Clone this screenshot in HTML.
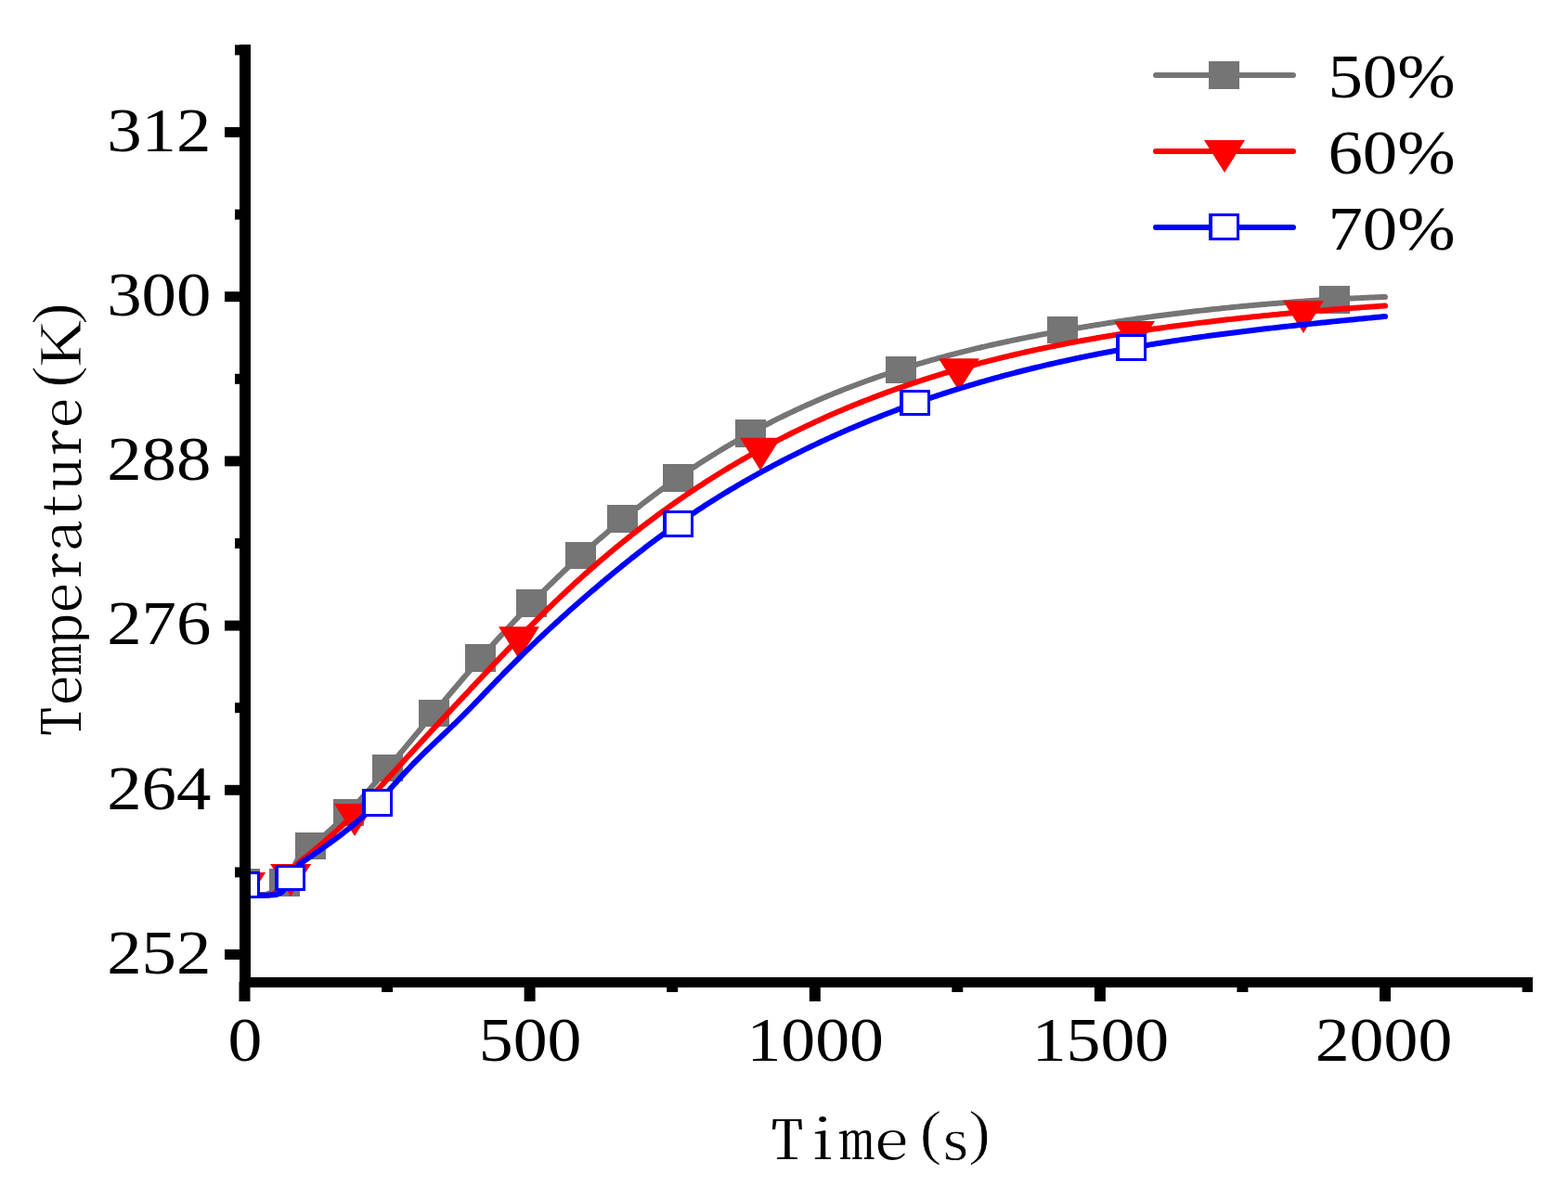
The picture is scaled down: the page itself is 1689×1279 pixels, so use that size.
<!DOCTYPE html>
<html><head><meta charset="utf-8">
<style>html,body{margin:0;padding:0;background:#fff;overflow:hidden}svg{display:block}</style>
</head><body>
<svg width="1689" height="1279" viewBox="0 0 1689 1279">
<rect width="1689" height="1279" fill="#fff"/>
<defs><clipPath id="tc"><rect x="20" y="300" width="76" height="520"/></clipPath><clipPath id="pc"><rect x="258" y="48" width="1393" height="1005"/></clipPath></defs>
<g clip-path="url(#pc)"><path d="M263.5,951.0 C263.9,952.7 264.1,958.9 266.0,961.0 C267.9,963.1 271.2,963.2 275.0,963.5 C278.8,963.8 283.8,965.1 289.0,963.0 C294.2,960.9 301.2,956.3 306.0,951.0 C310.8,945.7 316.0,934.3 318.0,931.0 L320.0,927.23 L322.0,924.11 L324.0,921.46 L326.0,919.19 L328.0,917.23 L330.0,915.51 L332.0,913.94 L334.0,912.45 L336.0,910.96 L338.0,909.44 L340.0,907.88 L342.0,906.28 L344.0,904.65 L346.0,902.99 L348.0,901.29 L350.0,899.56 L352.0,897.80 L354.0,896.01 L356.0,894.19 L358.0,892.35 L360.0,890.47 L362.0,888.57 L364.0,886.64 L366.0,884.68 L368.0,882.70 L370.0,880.70 L372.0,878.68 L374.0,876.63 L376.0,874.56 L378.0,872.47 L380.0,870.37 L382.0,868.24 L384.0,866.10 L386.0,863.93 L388.0,861.75 L390.0,859.56 L392.0,857.35 L394.0,855.12 L396.0,852.88 L398.0,850.62 L400.0,848.35 L402.0,846.07 L404.0,843.78 L406.0,841.48 L408.0,839.16 L410.0,836.83 L412.0,834.50 L414.0,832.15 L416.0,829.80 L418.0,827.44 L420.0,825.07 L422.0,822.70 L424.0,820.32 L426.0,817.94 L428.0,815.55 L430.0,813.15 L432.0,810.76 L434.0,808.36 L436.0,805.95 L438.0,803.55 L440.0,801.15 L442.0,798.74 L444.0,796.34 L446.0,793.93 L448.0,791.53 L450.0,789.13 L452.0,786.72 L454.0,784.32 L456.0,781.92 L458.0,779.52 L460.0,777.12 L462.0,774.73 L464.0,772.33 L466.0,769.94 L468.0,767.55 L470.0,765.16 L472.0,762.77 L474.0,760.39 L476.0,758.01 L478.0,755.63 L480.0,753.26 L482.0,750.89 L484.0,748.52 L486.0,746.16 L488.0,743.80 L490.0,741.44 L492.0,739.09 L494.0,736.74 L496.0,734.40 L498.0,732.06 L500.0,729.73 L502.0,727.41 L504.0,725.08 L506.0,722.77 L508.0,720.46 L510.0,718.15 L512.0,715.86 L514.0,713.56 L516.0,711.28 L518.0,709.00 L520.0,706.73 L522.0,704.46 L524.0,702.21 L526.0,699.95 L528.0,697.71 L530.0,695.48 L532.0,693.25 L534.0,691.03 L536.0,688.82 L538.0,686.62 L540.0,684.42 L542.0,682.24 L544.0,680.06 L546.0,677.90 L548.0,675.74 L550.0,673.59 L552.0,671.45 L554.0,669.32 L556.0,667.19 L558.0,665.08 L560.0,662.97 L562.0,660.88 L564.0,658.79 L566.0,656.71 L568.0,654.64 L570.0,652.58 L572.0,650.52 L574.0,648.48 L576.0,646.44 L578.0,644.41 L580.0,642.40 L582.0,640.39 L584.0,638.39 L586.0,636.39 L588.0,634.41 L590.0,632.43 L592.0,630.47 L594.0,628.51 L596.0,626.56 L598.0,624.62 L600.0,622.69 L602.0,620.76 L604.0,618.85 L606.0,616.94 L608.0,615.04 L610.0,613.15 L612.0,611.27 L614.0,609.40 L616.0,607.54 L618.0,605.68 L620.0,603.83 L622.0,602.00 L624.0,600.17 L626.0,598.35 L628.0,596.53 L630.0,594.73 L632.0,592.93 L634.0,591.15 L636.0,589.37 L638.0,587.60 L640.0,585.83 L642.0,584.08 L644.0,582.34 L646.0,580.60 L648.0,578.87 L650.0,577.15 L652.0,575.44 L654.0,573.73 L656.0,572.04 L658.0,570.35 L660.0,568.68 L662.0,567.01 L664.0,565.34 L666.0,563.69 L668.0,562.05 L670.0,560.41 L672.0,558.78 L674.0,557.16 L676.0,555.55 L678.0,553.95 L680.0,552.35 L682.0,550.76 L684.0,549.18 L686.0,547.61 L688.0,546.05 L690.0,544.50 L692.0,542.95 L694.0,541.41 L696.0,539.89 L698.0,538.36 L700.0,536.85 L702.0,535.35 L704.0,533.85 L706.0,532.36 L708.0,530.88 L710.0,529.41 L712.0,527.94 L714.0,526.49 L716.0,525.04 L718.0,523.60 L720.0,522.17 L722.0,520.75 L724.0,519.33 L726.0,517.92 L728.0,516.52 L730.0,515.13 L732.0,513.75 L734.0,512.37 L736.0,511.01 L738.0,509.65 L740.0,508.30 L742.0,506.95 L744.0,505.62 L746.0,504.29 L748.0,502.97 L750.0,501.66 L752.0,500.35 L754.0,499.06 L756.0,497.77 L758.0,496.49 L760.0,495.21 L762.0,493.95 L764.0,492.69 L766.0,491.44 L768.0,490.20 L770.0,488.96 L772.0,487.73 L774.0,486.51 L776.0,485.30 L778.0,484.09 L780.0,482.89 L782.0,481.70 L784.0,480.52 L786.0,479.34 L788.0,478.17 L790.0,477.01 L792.0,475.85 L794.0,474.70 L796.0,473.56 L798.0,472.43 L800.0,471.30 L802.0,470.18 L804.0,469.07 L806.0,467.96 L808.0,466.86 L810.0,465.77 L812.0,464.69 L814.0,463.61 L816.0,462.54 L818.0,461.47 L820.0,460.41 L822.0,459.36 L824.0,458.32 L826.0,457.28 L828.0,456.25 L830.0,455.22 L832.0,454.20 L834.0,453.19 L836.0,452.19 L838.0,451.19 L840.0,450.19 L842.0,449.21 L844.0,448.23 L846.0,447.26 L848.0,446.29 L850.0,445.33 L852.0,444.37 L854.0,443.43 L856.0,442.48 L858.0,441.55 L860.0,440.62 L862.0,439.69 L864.0,438.78 L866.0,437.87 L868.0,436.96 L870.0,436.06 L872.0,435.17 L874.0,434.28 L876.0,433.40 L878.0,432.52 L880.0,431.65 L882.0,430.79 L884.0,429.93 L886.0,429.08 L888.0,428.23 L890.0,427.39 L892.0,426.56 L894.0,425.73 L896.0,424.90 L898.0,424.08 L900.0,423.27 L902.0,422.46 L904.0,421.66 L906.0,420.86 L908.0,420.07 L910.0,419.29 L912.0,418.51 L914.0,417.73 L916.0,416.96 L918.0,416.20 L920.0,415.44 L922.0,414.68 L924.0,413.94 L926.0,413.19 L928.0,412.45 L930.0,411.72 L932.0,410.99 L934.0,410.27 L936.0,409.55 L938.0,408.84 L940.0,408.13 L942.0,407.43 L944.0,406.73 L946.0,406.03 L948.0,405.35 L950.0,404.66 L952.0,403.98 L954.0,403.31 L956.0,402.64 L958.0,401.97 L960.0,401.31 L962.0,400.66 L964.0,400.01 L966.0,399.36 L968.0,398.72 L970.0,398.08 L972.0,397.45 L974.0,396.82 L976.0,396.19 L978.0,395.57 L980.0,394.96 L982.0,394.35 L984.0,393.74 L986.0,393.14 L988.0,392.54 L990.0,391.95 L992.0,391.36 L994.0,390.77 L996.0,390.19 L998.0,389.61 L1000.0,389.04 L1002.0,388.47 L1004.0,387.90 L1006.0,387.34 L1008.0,386.78 L1010.0,386.23 L1012.0,385.68 L1014.0,385.13 L1016.0,384.59 L1018.0,384.05 L1020.0,383.52 L1022.0,382.99 L1024.0,382.46 L1026.0,381.94 L1028.0,381.42 L1030.0,380.90 L1032.0,380.39 L1034.0,379.88 L1036.0,379.37 L1038.0,378.87 L1040.0,378.37 L1042.0,377.88 L1044.0,377.39 L1046.0,376.90 L1048.0,376.41 L1050.0,375.93 L1052.0,375.45 L1054.0,374.98 L1056.0,374.50 L1058.0,374.04 L1060.0,373.57 L1062.0,373.11 L1064.0,372.65 L1066.0,372.19 L1068.0,371.74 L1070.0,371.29 L1072.0,370.84 L1074.0,370.40 L1076.0,369.96 L1078.0,369.52 L1080.0,369.08 L1082.0,368.65 L1084.0,368.22 L1086.0,367.79 L1088.0,367.37 L1090.0,366.94 L1092.0,366.53 L1094.0,366.11 L1096.0,365.70 L1098.0,365.28 L1100.0,364.88 L1102.0,364.47 L1104.0,364.07 L1106.0,363.66 L1108.0,363.27 L1110.0,362.87 L1112.0,362.48 L1114.0,362.08 L1116.0,361.69 L1118.0,361.31 L1120.0,360.92 L1122.0,360.54 L1124.0,360.16 L1126.0,359.78 L1128.0,359.41 L1130.0,359.03 L1132.0,358.66 L1134.0,358.29 L1136.0,357.92 L1138.0,357.56 L1140.0,357.19 L1142.0,356.83 L1144.0,356.47 L1146.0,356.12 L1148.0,355.76 L1150.0,355.41 L1152.0,355.05 L1154.0,354.70 L1156.0,354.35 L1158.0,354.01 L1160.0,353.66 L1162.0,353.32 L1164.0,352.98 L1166.0,352.64 L1168.0,352.30 L1170.0,351.97 L1172.0,351.63 L1174.0,351.30 L1176.0,350.97 L1178.0,350.64 L1180.0,350.32 L1182.0,349.99 L1184.0,349.67 L1186.0,349.35 L1188.0,349.03 L1190.0,348.71 L1192.0,348.39 L1194.0,348.08 L1196.0,347.77 L1198.0,347.46 L1200.0,347.15 L1202.0,346.84 L1204.0,346.54 L1206.0,346.24 L1208.0,345.93 L1210.0,345.64 L1212.0,345.34 L1214.0,345.04 L1216.0,344.75 L1218.0,344.46 L1220.0,344.16 L1222.0,343.88 L1224.0,343.59 L1226.0,343.30 L1228.0,343.02 L1230.0,342.74 L1232.0,342.46 L1234.0,342.18 L1236.0,341.90 L1238.0,341.63 L1240.0,341.36 L1242.0,341.08 L1244.0,340.82 L1246.0,340.55 L1248.0,340.28 L1250.0,340.02 L1252.0,339.75 L1254.0,339.49 L1256.0,339.23 L1258.0,338.98 L1260.0,338.72 L1262.0,338.47 L1264.0,338.21 L1266.0,337.96 L1268.0,337.72 L1270.0,337.47 L1272.0,337.22 L1274.0,336.98 L1276.0,336.74 L1278.0,336.50 L1280.0,336.26 L1282.0,336.02 L1284.0,335.78 L1286.0,335.55 L1288.0,335.32 L1290.0,335.09 L1292.0,334.86 L1294.0,334.63 L1296.0,334.41 L1298.0,334.18 L1300.0,333.96 L1302.0,333.74 L1304.0,333.52 L1306.0,333.31 L1308.0,333.09 L1310.0,332.88 L1312.0,332.66 L1314.0,332.45 L1316.0,332.24 L1318.0,332.04 L1320.0,331.83 L1322.0,331.63 L1324.0,331.43 L1326.0,331.22 L1328.0,331.03 L1330.0,330.83 L1332.0,330.63 L1334.0,330.44 L1336.0,330.25 L1338.0,330.05 L1340.0,329.86 L1342.0,329.68 L1344.0,329.49 L1346.0,329.31 L1348.0,329.12 L1350.0,328.94 L1352.0,328.76 L1354.0,328.58 L1356.0,328.41 L1358.0,328.23 L1360.0,328.06 L1362.0,327.89 L1364.0,327.71 L1366.0,327.55 L1368.0,327.38 L1370.0,327.21 L1372.0,327.05 L1374.0,326.89 L1376.0,326.72 L1378.0,326.56 L1380.0,326.41 L1382.0,326.25 L1384.0,326.10 L1386.0,325.94 L1388.0,325.79 L1390.0,325.64 L1392.0,325.49 L1394.0,325.34 L1396.0,325.20 L1398.0,325.05 L1400.0,324.91 L1402.0,324.77 L1404.0,324.63 L1406.0,324.49 L1408.0,324.36 L1410.0,324.22 L1412.0,324.09 L1414.0,323.95 L1416.0,323.82 L1418.0,323.69 L1420.0,323.57 L1422.0,323.44 L1424.0,323.32 L1426.0,323.19 L1428.0,323.07 L1430.0,322.95 L1432.0,322.83 L1434.0,322.71 L1436.0,322.60 L1438.0,322.48 L1440.0,322.37 L1442.0,322.26 L1444.0,322.15 L1446.0,322.04 L1448.0,321.93 L1450.0,321.83 L1452.0,321.72 L1454.0,321.62 L1456.0,321.52 L1458.0,321.42 L1460.0,321.32 L1462.0,321.22 L1464.0,321.13 L1466.0,321.03 L1468.0,320.94 L1470.0,320.85 L1472.0,320.76 L1474.0,320.67 L1476.0,320.58 L1478.0,320.50 L1480.0,320.41 L1482.0,320.33 L1484.0,320.25 L1486.0,320.17 L1488.0,320.09 L1490.0,320.01 L1492.0,319.94" fill="none" stroke="#757575" stroke-width="6" stroke-linejoin="round" stroke-linecap="round"/><rect x="247" y="936" width="33" height="30" fill="#757575"/><rect x="290" y="936" width="33" height="30" fill="#757575"/><rect x="318" y="897" width="33" height="29" fill="#757575"/><rect x="359" y="861" width="33" height="29" fill="#757575"/><rect x="401" y="813" width="33" height="29" fill="#757575"/><rect x="451" y="754" width="33" height="29" fill="#757575"/><rect x="501" y="694" width="33" height="30" fill="#757575"/><rect x="556" y="635" width="33" height="30" fill="#757575"/><rect x="609" y="584" width="33" height="29" fill="#757575"/><rect x="654" y="544" width="33" height="30" fill="#757575"/><rect x="714" y="500" width="33" height="30" fill="#757575"/><rect x="792" y="452" width="33" height="30" fill="#757575"/><rect x="954" y="384" width="33" height="29" fill="#757575"/><rect x="1128" y="341" width="33" height="29" fill="#757575"/><rect x="1421" y="308" width="33" height="30" fill="#757575"/><path d="M264.1,951.7 C264.6,953.4 262.0,960.0 267.0,962.0 C272.0,964.0 286.3,966.7 294.0,963.5 C301.7,960.3 308.7,948.2 313.1,942.8 C317.5,937.4 319.1,933.0 320.3,931.0 L322.3,929.11 L324.3,927.54 L326.3,925.95 L328.3,924.36 L330.3,922.75 L332.3,921.13 L334.3,919.51 L336.3,917.87 L338.3,916.22 L340.3,914.55 L342.3,912.88 L344.3,911.19 L346.3,909.49 L348.3,907.78 L350.3,906.05 L352.3,904.31 L354.3,902.55 L356.3,900.78 L358.3,899.00 L360.3,897.20 L362.3,895.39 L364.3,893.56 L366.3,891.71 L368.3,889.85 L370.3,887.97 L372.3,886.08 L374.3,884.16 L376.3,882.24 L378.3,880.29 L380.3,878.33 L382.3,876.34 L384.3,874.34 L386.3,872.33 L388.3,870.29 L390.3,868.24 L392.3,866.18 L394.3,864.10 L396.3,862.00 L398.3,859.90 L400.3,857.78 L402.3,855.65 L404.3,853.51 L406.3,851.36 L408.3,849.20 L410.3,847.04 L412.3,844.86 L414.3,842.68 L416.3,840.50 L418.3,838.31 L420.3,836.11 L422.3,833.91 L424.3,831.71 L426.3,829.51 L428.3,827.30 L430.3,825.10 L432.3,822.90 L434.3,820.69 L436.3,818.49 L438.3,816.29 L440.3,814.10 L442.3,811.91 L444.3,809.72 L446.3,807.54 L448.3,805.36 L450.3,803.19 L452.3,801.02 L454.3,798.85 L456.3,796.68 L458.3,794.52 L460.3,792.36 L462.3,790.20 L464.3,788.05 L466.3,785.89 L468.3,783.74 L470.3,781.59 L472.3,779.45 L474.3,777.30 L476.3,775.16 L478.3,773.01 L480.3,770.87 L482.3,768.73 L484.3,766.59 L486.3,764.45 L488.3,762.31 L490.3,760.17 L492.3,758.03 L494.3,755.89 L496.3,753.75 L498.3,751.61 L500.3,749.47 L502.3,747.34 L504.3,745.20 L506.3,743.06 L508.3,740.92 L510.3,738.78 L512.3,736.64 L514.3,734.51 L516.3,732.38 L518.3,730.24 L520.3,728.11 L522.3,725.98 L524.3,723.86 L526.3,721.73 L528.3,719.61 L530.3,717.49 L532.3,715.37 L534.3,713.26 L536.3,711.15 L538.3,709.04 L540.3,706.94 L542.3,704.84 L544.3,702.74 L546.3,700.65 L548.3,698.56 L550.3,696.48 L552.3,694.40 L554.3,692.32 L556.3,690.25 L558.3,688.19 L560.3,686.13 L562.3,684.07 L564.3,682.02 L566.3,679.98 L568.3,677.94 L570.3,675.91 L572.3,673.89 L574.3,671.87 L576.3,669.85 L578.3,667.85 L580.3,665.85 L582.3,663.86 L584.3,661.88 L586.3,659.90 L588.3,657.93 L590.3,655.97 L592.3,654.02 L594.3,652.07 L596.3,650.14 L598.3,648.21 L600.3,646.29 L602.3,644.38 L604.3,642.48 L606.3,640.58 L608.3,638.70 L610.3,636.83 L612.3,634.96 L614.3,633.10 L616.3,631.25 L618.3,629.41 L620.3,627.58 L622.3,625.76 L624.3,623.94 L626.3,622.14 L628.3,620.34 L630.3,618.55 L632.3,616.77 L634.3,615.00 L636.3,613.23 L638.3,611.48 L640.3,609.73 L642.3,607.99 L644.3,606.26 L646.3,604.54 L648.3,602.83 L650.3,601.12 L652.3,599.43 L654.3,597.74 L656.3,596.06 L658.3,594.38 L660.3,592.72 L662.3,591.06 L664.3,589.41 L666.3,587.77 L668.3,586.14 L670.3,584.52 L672.3,582.90 L674.3,581.29 L676.3,579.69 L678.3,578.10 L680.3,576.52 L682.3,574.94 L684.3,573.37 L686.3,571.81 L688.3,570.26 L690.3,568.71 L692.3,567.17 L694.3,565.64 L696.3,564.12 L698.3,562.61 L700.3,561.10 L702.3,559.60 L704.3,558.11 L706.3,556.62 L708.3,555.15 L710.3,553.68 L712.3,552.22 L714.3,550.76 L716.3,549.32 L718.3,547.88 L720.3,546.44 L722.3,545.02 L724.3,543.60 L726.3,542.19 L728.3,540.79 L730.3,539.39 L732.3,538.01 L734.3,536.62 L736.3,535.25 L738.3,533.88 L740.3,532.52 L742.3,531.17 L744.3,529.83 L746.3,528.49 L748.3,527.16 L750.3,525.83 L752.3,524.52 L754.3,523.21 L756.3,521.90 L758.3,520.61 L760.3,519.32 L762.3,518.04 L764.3,516.76 L766.3,515.49 L768.3,514.23 L770.3,512.97 L772.3,511.72 L774.3,510.48 L776.3,509.25 L778.3,508.02 L780.3,506.80 L782.3,505.58 L784.3,504.37 L786.3,503.17 L788.3,501.98 L790.3,500.79 L792.3,499.60 L794.3,498.43 L796.3,497.26 L798.3,496.10 L800.3,494.94 L802.3,493.79 L804.3,492.65 L806.3,491.51 L808.3,490.38 L810.3,489.25 L812.3,488.13 L814.3,487.02 L816.3,485.91 L818.3,484.81 L820.3,483.72 L822.3,482.63 L824.3,481.55 L826.3,480.47 L828.3,479.40 L830.3,478.34 L832.3,477.28 L834.3,476.23 L836.3,475.19 L838.3,474.15 L840.3,473.11 L842.3,472.08 L844.3,471.06 L846.3,470.05 L848.3,469.04 L850.3,468.03 L852.3,467.03 L854.3,466.04 L856.3,465.05 L858.3,464.07 L860.3,463.09 L862.3,462.12 L864.3,461.16 L866.3,460.20 L868.3,459.24 L870.3,458.30 L872.3,457.35 L874.3,456.42 L876.3,455.48 L878.3,454.56 L880.3,453.64 L882.3,452.72 L884.3,451.81 L886.3,450.91 L888.3,450.01 L890.3,449.11 L892.3,448.22 L894.3,447.34 L896.3,446.46 L898.3,445.59 L900.3,444.72 L902.3,443.86 L904.3,443.00 L906.3,442.15 L908.3,441.30 L910.3,440.46 L912.3,439.62 L914.3,438.78 L916.3,437.96 L918.3,437.13 L920.3,436.32 L922.3,435.50 L924.3,434.70 L926.3,433.89 L928.3,433.10 L930.3,432.30 L932.3,431.51 L934.3,430.73 L936.3,429.95 L938.3,429.18 L940.3,428.41 L942.3,427.64 L944.3,426.88 L946.3,426.13 L948.3,425.38 L950.3,424.63 L952.3,423.89 L954.3,423.15 L956.3,422.42 L958.3,421.69 L960.3,420.97 L962.3,420.25 L964.3,419.54 L966.3,418.83 L968.3,418.12 L970.3,417.42 L972.3,416.73 L974.3,416.04 L976.3,415.35 L978.3,414.66 L980.3,413.99 L982.3,413.31 L984.3,412.64 L986.3,411.98 L988.3,411.31 L990.3,410.66 L992.3,410.00 L994.3,409.35 L996.3,408.71 L998.3,408.07 L1000.3,407.43 L1002.3,406.80 L1004.3,406.17 L1006.3,405.55 L1008.3,404.93 L1010.3,404.31 L1012.3,403.70 L1014.3,403.09 L1016.3,402.49 L1018.3,401.89 L1020.3,401.29 L1022.3,400.70 L1024.3,400.11 L1026.3,399.52 L1028.3,398.94 L1030.3,398.36 L1032.3,397.79 L1034.3,397.22 L1036.3,396.66 L1038.3,396.09 L1040.3,395.54 L1042.3,394.98 L1044.3,394.43 L1046.3,393.88 L1048.3,393.34 L1050.3,392.80 L1052.3,392.26 L1054.3,391.73 L1056.3,391.20 L1058.3,390.67 L1060.3,390.15 L1062.3,389.63 L1064.3,389.12 L1066.3,388.60 L1068.3,388.10 L1070.3,387.59 L1072.3,387.09 L1074.3,386.59 L1076.3,386.09 L1078.3,385.60 L1080.3,385.11 L1082.3,384.63 L1084.3,384.15 L1086.3,383.67 L1088.3,383.19 L1090.3,382.72 L1092.3,382.25 L1094.3,381.79 L1096.3,381.32 L1098.3,380.86 L1100.3,380.41 L1102.3,379.95 L1104.3,379.50 L1106.3,379.05 L1108.3,378.61 L1110.3,378.17 L1112.3,377.73 L1114.3,377.29 L1116.3,376.86 L1118.3,376.43 L1120.3,376.00 L1122.3,375.58 L1124.3,375.16 L1126.3,374.74 L1128.3,374.32 L1130.3,373.91 L1132.3,373.50 L1134.3,373.09 L1136.3,372.69 L1138.3,372.29 L1140.3,371.89 L1142.3,371.49 L1144.3,371.10 L1146.3,370.71 L1148.3,370.32 L1150.3,369.93 L1152.3,369.55 L1154.3,369.17 L1156.3,368.79 L1158.3,368.41 L1160.3,368.04 L1162.3,367.67 L1164.3,367.30 L1166.3,366.93 L1168.3,366.57 L1170.3,366.21 L1172.3,365.85 L1174.3,365.49 L1176.3,365.13 L1178.3,364.78 L1180.3,364.43 L1182.3,364.08 L1184.3,363.74 L1186.3,363.40 L1188.3,363.05 L1190.3,362.71 L1192.3,362.38 L1194.3,362.04 L1196.3,361.71 L1198.3,361.38 L1200.3,361.05 L1202.3,360.72 L1204.3,360.40 L1206.3,360.08 L1208.3,359.76 L1210.3,359.44 L1212.3,359.12 L1214.3,358.81 L1216.3,358.49 L1218.3,358.18 L1220.3,357.87 L1222.3,357.56 L1224.3,357.26 L1226.3,356.96 L1228.3,356.65 L1230.3,356.35 L1232.3,356.05 L1234.3,355.76 L1236.3,355.46 L1238.3,355.17 L1240.3,354.88 L1242.3,354.59 L1244.3,354.30 L1246.3,354.01 L1248.3,353.73 L1250.3,353.45 L1252.3,353.17 L1254.3,352.89 L1256.3,352.61 L1258.3,352.33 L1260.3,352.06 L1262.3,351.79 L1264.3,351.51 L1266.3,351.24 L1268.3,350.98 L1270.3,350.71 L1272.3,350.45 L1274.3,350.18 L1276.3,349.92 L1278.3,349.66 L1280.3,349.40 L1282.3,349.15 L1284.3,348.89 L1286.3,348.64 L1288.3,348.39 L1290.3,348.14 L1292.3,347.89 L1294.3,347.64 L1296.3,347.39 L1298.3,347.15 L1300.3,346.91 L1302.3,346.67 L1304.3,346.43 L1306.3,346.19 L1308.3,345.95 L1310.3,345.72 L1312.3,345.48 L1314.3,345.25 L1316.3,345.02 L1318.3,344.79 L1320.3,344.56 L1322.3,344.33 L1324.3,344.11 L1326.3,343.89 L1328.3,343.66 L1330.3,343.44 L1332.3,343.22 L1334.3,343.00 L1336.3,342.79 L1338.3,342.57 L1340.3,342.36 L1342.3,342.15 L1344.3,341.93 L1346.3,341.72 L1348.3,341.52 L1350.3,341.31 L1352.3,341.10 L1354.3,340.90 L1356.3,340.69 L1358.3,340.49 L1360.3,340.29 L1362.3,340.09 L1364.3,339.89 L1366.3,339.69 L1368.3,339.50 L1370.3,339.30 L1372.3,339.11 L1374.3,338.92 L1376.3,338.73 L1378.3,338.54 L1380.3,338.35 L1382.3,338.16 L1384.3,337.97 L1386.3,337.79 L1388.3,337.61 L1390.3,337.42 L1392.3,337.24 L1394.3,337.06 L1396.3,336.88 L1398.3,336.70 L1400.3,336.53 L1402.3,336.35 L1404.3,336.18 L1406.3,336.00 L1408.3,335.83 L1410.3,335.66 L1412.3,335.49 L1414.3,335.32 L1416.3,335.15 L1418.3,334.98 L1420.3,334.82 L1422.3,334.65 L1424.3,334.49 L1426.3,334.32 L1428.3,334.16 L1430.3,334.00 L1432.3,333.84 L1434.3,333.68 L1436.3,333.52 L1438.3,333.36 L1440.3,333.21 L1442.3,333.05 L1444.3,332.90 L1446.3,332.75 L1448.3,332.59 L1450.3,332.44 L1452.3,332.29 L1454.3,332.14 L1456.3,331.99 L1458.3,331.84 L1460.3,331.70 L1462.3,331.55 L1464.3,331.41 L1466.3,331.26 L1468.3,331.12 L1470.3,330.98 L1472.3,330.83 L1474.3,330.69 L1476.3,330.55 L1478.3,330.41 L1480.3,330.27 L1482.3,330.14 L1484.3,330.00 L1486.3,329.86 L1488.3,329.73 L1490.3,329.59 L1492.0,329.48" fill="none" stroke="#ff0000" stroke-width="6" stroke-linejoin="round" stroke-linecap="round"/><polygon points="242.1,940.0 286.1,940.0 264.1,975.0" fill="#ff0000"/><polygon points="291.1,931.1 335.1,931.1 313.1,966.1" fill="#ff0000"/><polygon points="360.0,865.9 404.0,865.9 382.0,900.9" fill="#ff0000"/><polygon points="537.0,675.3 581.0,675.3 559.0,710.3" fill="#ff0000"/><polygon points="797.0,471.8 841.0,471.8 819.0,506.8" fill="#ff0000"/><polygon points="1011.0,386.3 1055.0,386.3 1033.0,421.3" fill="#ff0000"/><polygon points="1200.0,346.0 1244.0,346.0 1222.0,381.0" fill="#ff0000"/><polygon points="1382.0,324.0 1426.0,324.0 1404.0,359.0" fill="#ff0000"/><path d="M263.5,953.5 C264.1,955.1 262.6,961.2 267.0,963.0 C271.4,964.8 283.8,964.8 290.0,964.5 C296.2,964.2 300.2,964.1 304.0,961.0 C307.8,957.9 309.4,951.0 312.5,946.0 C315.6,941.0 321.1,933.5 322.8,931.0 L324.8,929.58 L326.8,928.21 L328.8,926.85 L330.8,925.48 L332.8,924.11 L334.8,922.74 L336.8,921.37 L338.8,919.99 L340.8,918.61 L342.8,917.22 L344.8,915.83 L346.8,914.43 L348.8,913.02 L350.8,911.60 L352.8,910.17 L354.8,908.73 L356.8,907.28 L358.8,905.82 L360.8,904.34 L362.8,902.85 L364.8,901.34 L366.8,899.82 L368.8,898.27 L370.8,896.71 L372.8,895.14 L374.8,893.54 L376.8,891.92 L378.8,890.28 L380.8,888.62 L382.8,886.93 L384.8,885.22 L386.8,883.48 L388.8,881.72 L390.8,879.93 L392.8,878.11 L394.8,876.27 L396.8,874.39 L398.8,872.49 L400.8,870.55 L402.8,868.58 L404.8,866.57 L406.8,864.54 L408.8,862.47 L410.8,860.36 L412.8,858.23 L414.8,856.08 L416.8,853.91 L418.8,851.72 L420.8,849.52 L422.8,847.31 L424.8,845.10 L426.8,842.88 L428.8,840.66 L430.8,838.46 L432.8,836.26 L434.8,834.07 L436.8,831.90 L438.8,829.75 L440.8,827.63 L442.8,825.52 L444.8,823.45 L446.8,821.40 L448.8,819.36 L450.8,817.35 L452.8,815.35 L454.8,813.38 L456.8,811.41 L458.8,809.46 L460.8,807.52 L462.8,805.59 L464.8,803.67 L466.8,801.76 L468.8,799.86 L470.8,797.95 L472.8,796.05 L474.8,794.16 L476.8,792.26 L478.8,790.36 L480.8,788.45 L482.8,786.55 L484.8,784.63 L486.8,782.71 L488.8,780.78 L490.8,778.83 L492.8,776.88 L494.8,774.91 L496.8,772.93 L498.8,770.93 L500.8,768.91 L502.8,766.89 L504.8,764.85 L506.8,762.80 L508.8,760.75 L510.8,758.68 L512.8,756.61 L514.8,754.54 L516.8,752.45 L518.8,750.37 L520.8,748.28 L522.8,746.19 L524.8,744.10 L526.8,742.00 L528.8,739.91 L530.8,737.83 L532.8,735.74 L534.8,733.67 L536.8,731.59 L538.8,729.53 L540.8,727.47 L542.8,725.42 L544.8,723.38 L546.8,721.35 L548.8,719.32 L550.8,717.31 L552.8,715.30 L554.8,713.30 L556.8,711.31 L558.8,709.33 L560.8,707.35 L562.8,705.39 L564.8,703.43 L566.8,701.47 L568.8,699.53 L570.8,697.60 L572.8,695.67 L574.8,693.75 L576.8,691.83 L578.8,689.93 L580.8,688.03 L582.8,686.14 L584.8,684.25 L586.8,682.38 L588.8,680.51 L590.8,678.65 L592.8,676.79 L594.8,674.94 L596.8,673.10 L598.8,671.26 L600.8,669.44 L602.8,667.61 L604.8,665.80 L606.8,663.99 L608.8,662.19 L610.8,660.39 L612.8,658.60 L614.8,656.82 L616.8,655.04 L618.8,653.27 L620.8,651.51 L622.8,649.75 L624.8,648.00 L626.8,646.25 L628.8,644.51 L630.8,642.77 L632.8,641.04 L634.8,639.32 L636.8,637.60 L638.8,635.89 L640.8,634.18 L642.8,632.48 L644.8,630.78 L646.8,629.09 L648.8,627.40 L650.8,625.72 L652.8,624.04 L654.8,622.37 L656.8,620.71 L658.8,619.05 L660.8,617.39 L662.8,615.74 L664.8,614.10 L666.8,612.46 L668.8,610.83 L670.8,609.20 L672.8,607.59 L674.8,605.97 L676.8,604.37 L678.8,602.77 L680.8,601.18 L682.8,599.59 L684.8,598.02 L686.8,596.45 L688.8,594.88 L690.8,593.33 L692.8,591.78 L694.8,590.24 L696.8,588.71 L698.8,587.18 L700.8,585.67 L702.8,584.16 L704.8,582.66 L706.8,581.17 L708.8,579.68 L710.8,578.21 L712.8,576.74 L714.8,575.28 L716.8,573.83 L718.8,572.39 L720.8,570.95 L722.8,569.52 L724.8,568.10 L726.8,566.69 L728.8,565.29 L730.8,563.89 L732.8,562.50 L734.8,561.12 L736.8,559.74 L738.8,558.37 L740.8,557.01 L742.8,555.66 L744.8,554.32 L746.8,552.98 L748.8,551.65 L750.8,550.32 L752.8,549.01 L754.8,547.70 L756.8,546.40 L758.8,545.10 L760.8,543.81 L762.8,542.53 L764.8,541.26 L766.8,539.99 L768.8,538.73 L770.8,537.47 L772.8,536.23 L774.8,534.99 L776.8,533.75 L778.8,532.52 L780.8,531.30 L782.8,530.09 L784.8,528.88 L786.8,527.68 L788.8,526.49 L790.8,525.30 L792.8,524.11 L794.8,522.94 L796.8,521.77 L798.8,520.60 L800.8,519.45 L802.8,518.29 L804.8,517.15 L806.8,516.01 L808.8,514.88 L810.8,513.75 L812.8,512.63 L814.8,511.51 L816.8,510.40 L818.8,509.30 L820.8,508.20 L822.8,507.10 L824.8,506.02 L826.8,504.94 L828.8,503.86 L830.8,502.79 L832.8,501.72 L834.8,500.66 L836.8,499.61 L838.8,498.56 L840.8,497.51 L842.8,496.48 L844.8,495.44 L846.8,494.41 L848.8,493.39 L850.8,492.37 L852.8,491.36 L854.8,490.35 L856.8,489.35 L858.8,488.35 L860.8,487.36 L862.8,486.37 L864.8,485.39 L866.8,484.41 L868.8,483.43 L870.8,482.46 L872.8,481.50 L874.8,480.54 L876.8,479.59 L878.8,478.64 L880.8,477.69 L882.8,476.76 L884.8,475.82 L886.8,474.89 L888.8,473.97 L890.8,473.05 L892.8,472.13 L894.8,471.22 L896.8,470.31 L898.8,469.41 L900.8,468.51 L902.8,467.62 L904.8,466.73 L906.8,465.85 L908.8,464.97 L910.8,464.10 L912.8,463.23 L914.8,462.36 L916.8,461.50 L918.8,460.65 L920.8,459.80 L922.8,458.95 L924.8,458.11 L926.8,457.27 L928.8,456.44 L930.8,455.61 L932.8,454.78 L934.8,453.96 L936.8,453.15 L938.8,452.34 L940.8,451.53 L942.8,450.73 L944.8,449.93 L946.8,449.14 L948.8,448.35 L950.8,447.56 L952.8,446.78 L954.8,446.00 L956.8,445.23 L958.8,444.46 L960.8,443.70 L962.8,442.94 L964.8,442.18 L966.8,441.43 L968.8,440.68 L970.8,439.94 L972.8,439.20 L974.8,438.47 L976.8,437.74 L978.8,437.01 L980.8,436.29 L982.8,435.57 L984.8,434.85 L986.8,434.14 L988.8,433.43 L990.8,432.73 L992.8,432.03 L994.8,431.34 L996.8,430.65 L998.8,429.96 L1000.8,429.28 L1002.8,428.60 L1004.8,427.92 L1006.8,427.25 L1008.8,426.58 L1010.8,425.92 L1012.8,425.26 L1014.8,424.60 L1016.8,423.95 L1018.8,423.30 L1020.8,422.65 L1022.8,422.01 L1024.8,421.38 L1026.8,420.74 L1028.8,420.11 L1030.8,419.48 L1032.8,418.86 L1034.8,418.24 L1036.8,417.63 L1038.8,417.01 L1040.8,416.41 L1042.8,415.80 L1044.8,415.20 L1046.8,414.60 L1048.8,414.01 L1050.8,413.42 L1052.8,412.83 L1054.8,412.25 L1056.8,411.66 L1058.8,411.09 L1060.8,410.51 L1062.8,409.94 L1064.8,409.38 L1066.8,408.81 L1068.8,408.25 L1070.8,407.70 L1072.8,407.14 L1074.8,406.59 L1076.8,406.05 L1078.8,405.50 L1080.8,404.96 L1082.8,404.43 L1084.8,403.89 L1086.8,403.36 L1088.8,402.84 L1090.8,402.31 L1092.8,401.79 L1094.8,401.28 L1096.8,400.76 L1098.8,400.25 L1100.8,399.74 L1102.8,399.24 L1104.8,398.73 L1106.8,398.24 L1108.8,397.74 L1110.8,397.25 L1112.8,396.76 L1114.8,396.27 L1116.8,395.79 L1118.8,395.31 L1120.8,394.83 L1122.8,394.36 L1124.8,393.88 L1126.8,393.41 L1128.8,392.95 L1130.8,392.49 L1132.8,392.03 L1134.8,391.57 L1136.8,391.11 L1138.8,390.66 L1140.8,390.21 L1142.8,389.77 L1144.8,389.32 L1146.8,388.88 L1148.8,388.45 L1150.8,388.01 L1152.8,387.58 L1154.8,387.15 L1156.8,386.72 L1158.8,386.30 L1160.8,385.88 L1162.8,385.46 L1164.8,385.04 L1166.8,384.63 L1168.8,384.22 L1170.8,383.81 L1172.8,383.40 L1174.8,383.00 L1176.8,382.60 L1178.8,382.20 L1180.8,381.81 L1182.8,381.41 L1184.8,381.02 L1186.8,380.63 L1188.8,380.25 L1190.8,379.86 L1192.8,379.48 L1194.8,379.11 L1196.8,378.73 L1198.8,378.36 L1200.8,377.98 L1202.8,377.62 L1204.8,377.25 L1206.8,376.88 L1208.8,376.52 L1210.8,376.16 L1212.8,375.80 L1214.8,375.45 L1216.8,375.10 L1218.8,374.75 L1220.8,374.40 L1222.8,374.05 L1224.8,373.71 L1226.8,373.36 L1228.8,373.02 L1230.8,372.69 L1232.8,372.35 L1234.8,372.02 L1236.8,371.68 L1238.8,371.35 L1240.8,371.03 L1242.8,370.70 L1244.8,370.38 L1246.8,370.06 L1248.8,369.74 L1250.8,369.42 L1252.8,369.10 L1254.8,368.79 L1256.8,368.48 L1258.8,368.17 L1260.8,367.86 L1262.8,367.56 L1264.8,367.25 L1266.8,366.95 L1268.8,366.65 L1270.8,366.35 L1272.8,366.05 L1274.8,365.76 L1276.8,365.46 L1278.8,365.17 L1280.8,364.88 L1282.8,364.60 L1284.8,364.31 L1286.8,364.02 L1288.8,363.74 L1290.8,363.46 L1292.8,363.18 L1294.8,362.90 L1296.8,362.63 L1298.8,362.35 L1300.8,362.08 L1302.8,361.81 L1304.8,361.54 L1306.8,361.27 L1308.8,361.00 L1310.8,360.73 L1312.8,360.47 L1314.8,360.21 L1316.8,359.95 L1318.8,359.69 L1320.8,359.43 L1322.8,359.17 L1324.8,358.92 L1326.8,358.66 L1328.8,358.41 L1330.8,358.16 L1332.8,357.91 L1334.8,357.66 L1336.8,357.41 L1338.8,357.17 L1340.8,356.92 L1342.8,356.68 L1344.8,356.44 L1346.8,356.20 L1348.8,355.96 L1350.8,355.72 L1352.8,355.48 L1354.8,355.24 L1356.8,355.01 L1358.8,354.77 L1360.8,354.54 L1362.8,354.31 L1364.8,354.08 L1366.8,353.85 L1368.8,353.62 L1370.8,353.39 L1372.8,353.17 L1374.8,352.94 L1376.8,352.72 L1378.8,352.49 L1380.8,352.27 L1382.8,352.05 L1384.8,351.83 L1386.8,351.61 L1388.8,351.39 L1390.8,351.17 L1392.8,350.96 L1394.8,350.74 L1396.8,350.53 L1398.8,350.31 L1400.8,350.10 L1402.8,349.88 L1404.8,349.67 L1406.8,349.46 L1408.8,349.25 L1410.8,349.04 L1412.8,348.83 L1414.8,348.62 L1416.8,348.42 L1418.8,348.21 L1420.8,348.00 L1422.8,347.80 L1424.8,347.59 L1426.8,347.39 L1428.8,347.18 L1430.8,346.98 L1432.8,346.78 L1434.8,346.58 L1436.8,346.37 L1438.8,346.17 L1440.8,345.97 L1442.8,345.77 L1444.8,345.57 L1446.8,345.37 L1448.8,345.18 L1450.8,344.98 L1452.8,344.78 L1454.8,344.58 L1456.8,344.39 L1458.8,344.19 L1460.8,343.99 L1462.8,343.80 L1464.8,343.60 L1466.8,343.41 L1468.8,343.21 L1470.8,343.02 L1472.8,342.82 L1474.8,342.63 L1476.8,342.43 L1478.8,342.24 L1480.8,342.05 L1482.8,341.85 L1484.8,341.66 L1486.8,341.47 L1488.8,341.27 L1490.8,341.08 L1492.0,340.96" fill="none" stroke="#0000ff" stroke-width="6" stroke-linejoin="round" stroke-linecap="round"/><rect x="247" y="939" width="33" height="29" fill="#0000ff"/><rect x="251" y="942" width="26" height="23" fill="#fff"/><rect x="296" y="932" width="33" height="28" fill="#0000ff"/><rect x="300" y="935" width="26" height="22" fill="#fff"/><rect x="390" y="850" width="33" height="30" fill="#0000ff"/><rect x="394" y="853" width="26" height="24" fill="#fff"/><rect x="714" y="550" width="33" height="29" fill="#0000ff"/><rect x="718" y="553" width="26" height="23" fill="#fff"/><rect x="969" y="420" width="33" height="28" fill="#0000ff"/><rect x="973" y="423" width="26" height="22" fill="#fff"/><rect x="1202" y="360" width="33" height="29" fill="#0000ff"/><rect x="1206" y="363" width="26" height="23" fill="#fff"/></g>
<g><rect x="258" y="48" width="12" height="1016" fill="#000"/><rect x="258" y="1053" width="1393" height="11" fill="#000"/><rect x="242" y="137.0" width="16" height="11" fill="#000"/><rect x="242" y="314.2" width="16" height="11" fill="#000"/><rect x="242" y="491.4" width="16" height="11" fill="#000"/><rect x="242" y="668.6" width="16" height="11" fill="#000"/><rect x="242" y="845.8" width="16" height="11" fill="#000"/><rect x="242" y="1023.0" width="16" height="11" fill="#000"/><rect x="253" y="48.4" width="5" height="11.0" fill="#000"/><rect x="253" y="225.6" width="5" height="11.0" fill="#000"/><rect x="253" y="402.8" width="5" height="11.0" fill="#000"/><rect x="253" y="580.0" width="5" height="11.0" fill="#000"/><rect x="253" y="757.2" width="5" height="11.0" fill="#000"/><rect x="253" y="934.4" width="5" height="11.0" fill="#000"/><rect x="257.5" y="1058" width="12" height="21" fill="#000"/><rect x="564.6" y="1058" width="12" height="21" fill="#000"/><rect x="871.8" y="1058" width="12" height="21" fill="#000"/><rect x="1178.9" y="1058" width="12" height="21" fill="#000"/><rect x="1486.0" y="1058" width="12" height="21" fill="#000"/><rect x="411.1" y="1058" width="12.0" height="11" fill="#000"/><rect x="718.2" y="1058" width="12.0" height="11" fill="#000"/><rect x="1025.3" y="1058" width="12.0" height="11" fill="#000"/><rect x="1332.4" y="1058" width="12.0" height="11" fill="#000"/><rect x="1639.6" y="1058" width="11.4" height="11" fill="#000"/></g>
<g font-family="'Liberation Serif', serif" font-size="68" fill="#000">
<text transform="translate(115.2,162.8) scale(1.1,1)" x="0" y="0">312</text>
<text transform="translate(115.2,340.0) scale(1.1,1)" x="0" y="0">300</text>
<text transform="translate(115.2,517.2) scale(1.1,1)" x="0" y="0">288</text>
<text transform="translate(115.2,694.4) scale(1.1,1)" x="0" y="0">276</text>
<text transform="translate(115.2,871.6) scale(1.1,1)" x="0" y="0">264</text>
<text transform="translate(115.2,1048.8) scale(1.1,1)" x="0" y="0">252</text>
<text transform="translate(264.0,1143.3) scale(1.085,1)" x="0" y="0" text-anchor="middle">0</text>
<text transform="translate(571.1,1143.3) scale(1.085,1)" x="0" y="0" text-anchor="middle">500</text>
<text transform="translate(878.2,1143.3) scale(1.085,1)" x="0" y="0" text-anchor="middle">1000</text>
<text transform="translate(1185.4,1143.3) scale(1.085,1)" x="0" y="0" text-anchor="middle">1500</text>
<text transform="translate(1490.5,1143.3) scale(1.085,1)" x="0" y="0" text-anchor="middle">2000</text>
</g>
<g font-family="'Liberation Serif', serif" font-size="68" fill="#000" stroke="#fff" stroke-width="0.8">
<text stroke="none" font-weight="300" font-family="'Noto Serif CJK SC', 'Liberation Serif', serif" font-size="59" style="font-feature-settings:'hwid'" transform="translate(829.2,1248.9) scale(1.27,0.965)">Time</text><text transform="translate(0,1248.9) scale(1.04,0.97)" x="963.94 990.00 1014.42" y="-7.22 1.55 -7.22" text-anchor="middle">(s)</text>
<g clip-path="url(#tc)"><text stroke="none" font-weight="300" font-family="'Noto Serif CJK SC', 'Liberation Serif', serif" font-size="59" style="font-feature-settings:'hwid'" transform="translate(86.8,793.9) rotate(-90) scale(1.1264,0.965)">Temperature</text><text transform="translate(86.8,0) rotate(-90) scale(1.04,0.97)" x="-390.29 -355.77 -324.90" y="-7.22 0.00 -7.22" text-anchor="middle">(K)</text></g>
</g>
<g font-family="'Liberation Serif', serif" font-size="68" fill="#000">
<line x1="1245" y1="81" x2="1393" y2="81" stroke="#757575" stroke-width="6" stroke-linecap="round"/>
<rect x="1302" y="66" width="33" height="30" fill="#757575"/>
<text transform="translate(1430.4,105.2) scale(1.1,1)" x="0" y="0">50%</text>
<line x1="1245" y1="163" x2="1393" y2="163" stroke="#ff0000" stroke-width="6" stroke-linecap="round"/>
<polygon points="1297,151 1341,151 1319,186" fill="#ff0000"/>
<text transform="translate(1430.4,187.2) scale(1.1,1)" x="0" y="0">60%</text>
<line x1="1245" y1="245" x2="1393" y2="245" stroke="#0000ff" stroke-width="6" stroke-linecap="round"/>
<rect x="1302" y="230" width="33" height="29" fill="#0000ff"/><rect x="1306" y="233" width="26" height="23" fill="#fff"/>
<text transform="translate(1430.4,269.2) scale(1.1,1)" x="0" y="0">70%</text>
</g>
</svg>
</body></html>
